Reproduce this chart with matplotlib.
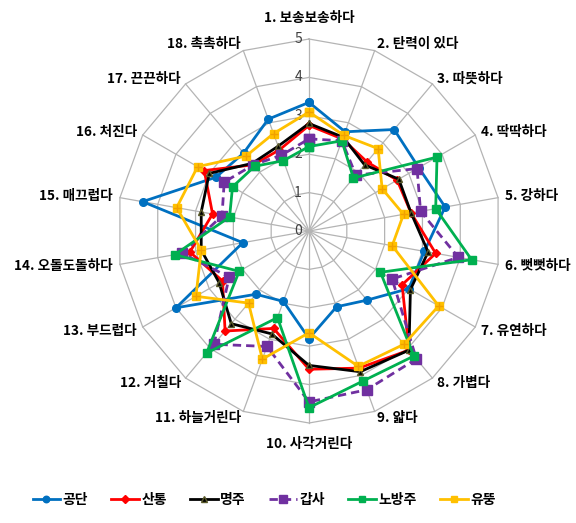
import numpy as np
import matplotlib
matplotlib.use('Agg')
import matplotlib.pyplot as plt

plt.rcParams['font.family'] = ['Noto Sans CJK KR', 'DejaVu Sans']

categories = ['1. 보송보송하다', '2. 탄력이 있다', '3. 따뜻하다', '4. 딱딱하다', '5. 강하다',
              '6. 뻣뻣하다', '7. 유연하다', '8. 가볍다', '9. 얇다', '10. 사각거린다',
              '11. 하늘거린다', '12. 거칠다', '13. 부드럽다', '14. 오돌도돌하다', '15. 매끄럽다',
              '16. 처진다', '17. 끈끈하다', '18. 촉촉하다']

# 직물별 평가 점수 (0~5)
gongdan = [3.35, 2.75, 3.45, 3.3, 3.6, 3.05, 3.0, 2.35, 2.1, 2.8, 1.95, 2.15, 4.0, 1.75, 4.4, 2.8, 2.65, 3.1]
santong = [2.75, 2.55, 2.35, 2.65, 2.7, 3.35, 2.8, 4.05, 3.8, 3.6, 2.7, 3.4, 2.6, 3.15, 2.55, 3.15, 2.25, 2.25]
myeongju = [2.8, 2.6, 2.25, 2.7, 2.7, 3.15, 3.05, 4.05, 3.9, 3.5, 2.85, 3.15, 2.7, 2.85, 2.85, 3.0, 2.3, 2.35]
gapsa = [2.4, 2.5, 1.9, 3.25, 2.95, 3.95, 2.5, 4.35, 4.4, 4.45, 3.2, 3.85, 2.4, 3.35, 2.3, 2.55, 2.25, 2.1]
nobangju = [2.2, 2.5, 1.8, 3.85, 3.35, 4.3, 2.15, 4.25, 4.15, 4.6, 2.4, 4.15, 2.1, 3.55, 2.1, 2.3, 2.2, 1.95]
yuttung = [3.1, 2.65, 2.8, 2.2, 2.5, 2.2, 3.9, 3.85, 3.75, 2.65, 3.55, 2.45, 3.4, 2.85, 3.5, 3.35, 2.55, 2.7]

series_names = ['공단', '산통', '명주', '갑사', '노방주', '유뚱']
radial_ticks = [0, 1, 2, 3, 4, 5]


def closed(values):
    return list(values) + [values[0]]


def main():
    fig = plt.figure(figsize=(5.76, 5.23), dpi=100)
    ax = fig.add_axes([0.2031, 0.1912, 0.6667, 0.7342], projection='polar')
    ax.set_theta_offset(np.pi / 2)
    ax.set_theta_direction(-1)
    ax.set_ylim(0, 5)
    ax.grid(False)
    ax.set_xticks([])
    ax.set_yticks([])
    ax.spines['polar'].set_visible(False)
    ax.patch.set_alpha(0)

    n = len(categories)
    angles = np.linspace(0, 2 * np.pi, n, endpoint=False)
    ring_angles = closed(list(angles))

    # polygon grid
    grid_color = '#B4B4B4'
    for r in radial_ticks[1:]:
        ax.plot(ring_angles, [r] * (n + 1), color=grid_color, lw=0.9, clip_on=False, zorder=1)
    for a in angles:
        ax.plot([a, a], [0, 5], color=grid_color, lw=0.9, clip_on=False, zorder=1)

    for r in radial_ticks:
        ax.annotate(str(r), xy=(0, r), xytext=(-7, 0), textcoords='offset pixels',
                    ha='right', va='center', fontsize=10, color='#404040')

    for a, label in zip(angles, categories):
        s, c = np.sin(a), np.cos(a)
        if abs(s) < 0.1:
            ha = 'center'
            off = (0, 21 * np.sign(c))
        else:
            ha = 'left' if s > 0 else 'right'
            off = (7 * s, 7 * c)
        ax.annotate(label, xy=(a, 5), xytext=off, textcoords='offset pixels',
                    ha=ha, va='center', fontsize=9.8, fontweight='bold')

    styles = [
        dict(color='#0070C0', marker='o', markersize=5.5),
        dict(color='#FF0000', marker='D', markersize=4.5),
        dict(color='#000000', marker='^', markersize=5, markeredgecolor='#5A5A2A'),
        dict(color='#7030A0', marker='s', markersize=6.5, linestyle=(0, (3, 1.8))),
        dict(color='#00B050', marker='s', markersize=5.5),
        dict(color='#FFC000', marker='s', markersize=5.5),
    ]
    data = [gongdan, santong, myeongju, gapsa, nobangju, yuttung]
    handles = []
    for i, (values, name, st) in enumerate(zip(data, series_names, styles)):
        line, = ax.plot(ring_angles, closed(values), lw=2, label=name, clip_on=False,
                        zorder=3 + i, **st)
        handles.append(line)
    # 유뚱 marker cross
    ax.plot(angles, yuttung, linestyle='none', marker='+', markersize=5.5, mew=1,
            color='#F0A000', clip_on=False, zorder=9)

    fig.legend(handles=handles, loc='center', bbox_to_anchor=(264 / 576, 1 - 500 / 523),
               ncol=6, frameon=False, handlelength=2.0, handletextpad=0.15,
               columnspacing=1.7, markerscale=0.85, prop={'size': 10, 'weight': 'bold'})

    fig.savefig('out.png', dpi=100)


if __name__ == "__main__":
    main()
